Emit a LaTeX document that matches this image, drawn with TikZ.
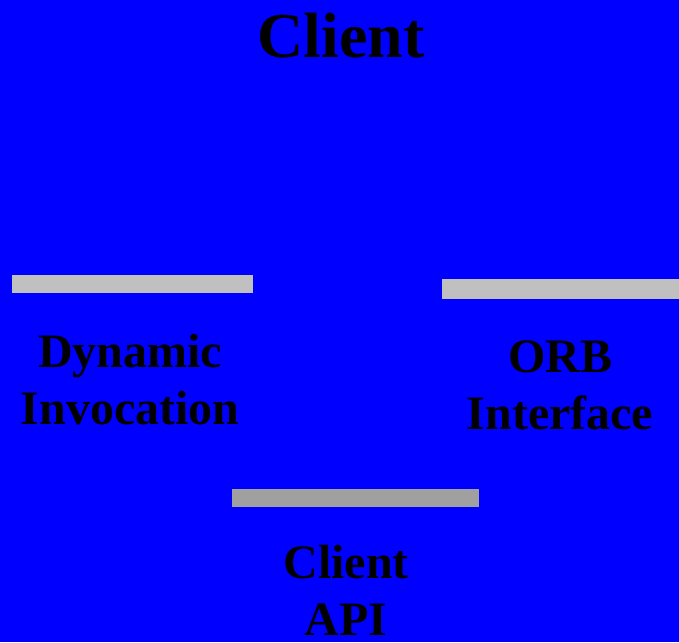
\documentclass[tikz,border=0pt]{standalone}
\usepackage{fontspec}
\setmainfont{Liberation Serif}
\definecolor{bgblue}{HTML}{0000FF}
\definecolor{barlight}{HTML}{C0C0C0}
\definecolor{bardark}{HTML}{A0A0A0}
\begin{document}
\begin{tikzpicture}[x=1pt,y=-1pt,
  titlelabel/.style={anchor=base,inner sep=0pt,text=black,font=\bfseries\fontsize{64}{70}\selectfont},
  partlabel/.style={anchor=base,inner sep=0pt,align=center,text=black,font=\bfseries\fontsize{48}{57}\selectfont}]
  % canvas
  \fill[bgblue] (0,0) rectangle (679,642);
  \useasboundingbox (0,0) rectangle (679,642);
  % title
  \node[titlelabel] (title) at (341,57) {Client};
  % separator bars
  \fill[barlight] (12,275) rectangle (253,293);
  \fill[barlight] (442,279) rectangle (679,299);
  \fill[bardark] (232,489) rectangle (479,507);
  % component labels (anchored at the baseline of their last line)
  \node[partlabel] (dyn) at (130,424) {Dynamic\\Invocation};
  \node[partlabel] (orb) at (560,429) {ORB\\Interface};
  \node[partlabel] (api) at (346,635) {Client\\API};
\end{tikzpicture}
\end{document}
